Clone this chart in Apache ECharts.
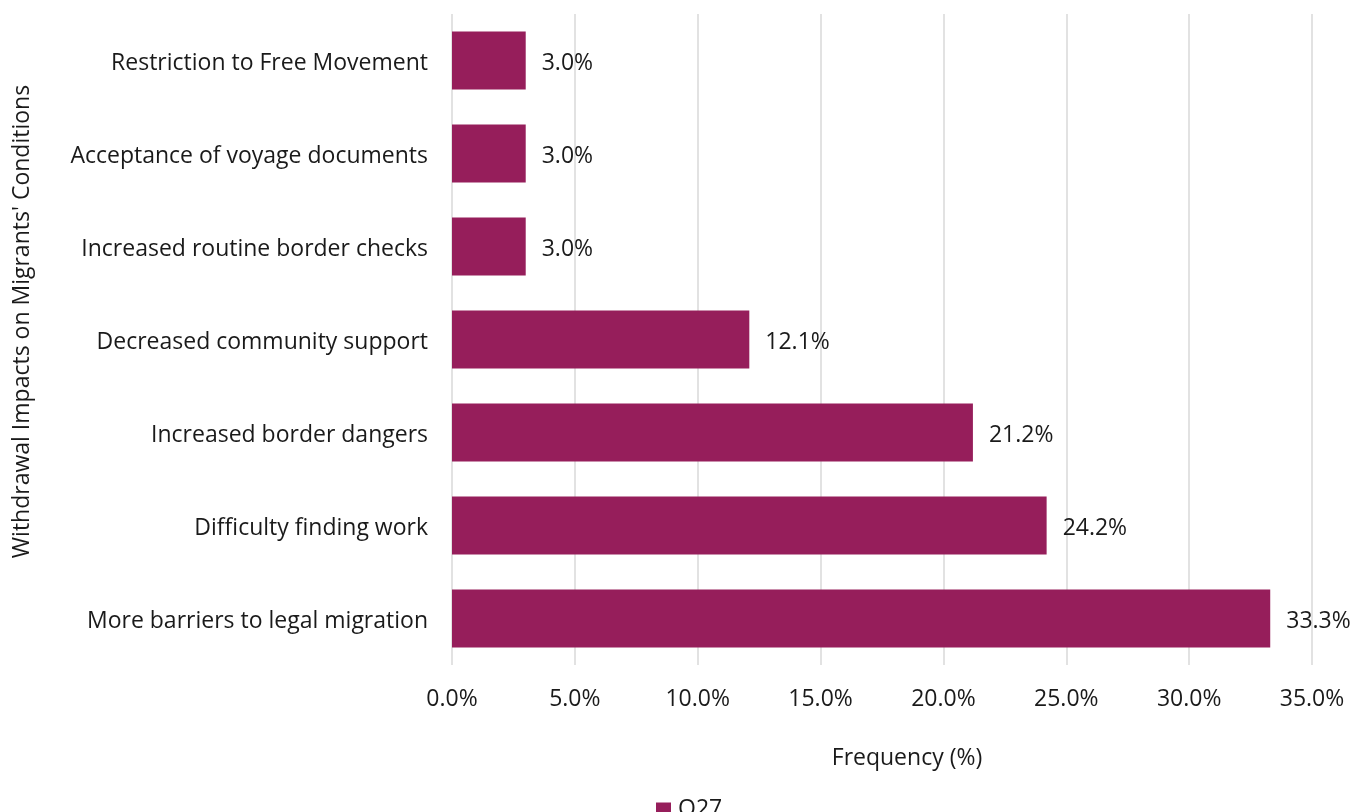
<!DOCTYPE html>
<html>
<head>
<meta charset="utf-8">
<script src="https://cdn.jsdelivr.net/npm/echarts@6/dist/echarts.min.js"></script>
<style>
  html, body { margin: 0; padding: 0; background: #ffffff; }
  #chart { width: 1367px; height: 812px; }
</style>
</head>
<body>
<div id="chart"></div>
<script>
// Categories listed bottom-to-top (ECharts category axis runs upward)
const categories = [
  'More barriers to legal migration',
  'Difficulty finding work',
  'Increased border dangers',
  'Decreased community support',
  'Increased routine border checks',
  'Acceptance of voyage documents',
  'Restriction to Free Movement'
];
const seriesName = 'Q27';
const values = [33.3, 24.2, 21.2, 12.1, 3.0, 3.0, 3.0];
const xTicks = { min: 0, max: 35, interval: 5 };

const barColor = '#961e5b';
const textColor = '#1a1a1a';
const fontFamily = '"Open Sans", "Noto Sans", sans-serif';
const fs = 23;

const chart = echarts.init(document.getElementById('chart'));
chart.setOption({
  animation: false,
  textStyle: { fontFamily: fontFamily },
  grid: { left: 452, right: 55, top: 14, bottom: 147, containLabel: false },
  legend: {
    data: [seriesName],
    bottom: -14,
    left: 651,
    itemWidth: 15,
    itemHeight: 14,
    itemGap: 7,
    icon: 'rect',
    textStyle: { fontSize: fs, color: textColor, fontFamily: fontFamily, padding: [0, 0, 0, 2] }
  },
  xAxis: {
    type: 'value',
    min: xTicks.min,
    max: xTicks.max,
    interval: xTicks.interval,
    name: 'Frequency (%)',
    nameLocation: 'middle',
    nameGap: 82,
    nameTextStyle: { fontSize: fs, color: textColor, padding: [0, 0, 0, 50] },
    axisLine: { show: false },
    axisTick: { show: false },
    axisLabel: {
      fontSize: fs, color: textColor, margin: 23,
      formatter: v => v.toFixed(1) + '%'
    },
    splitLine: { show: true, lineStyle: { color: '#e2e2e2', width: 2 } }
  },
  yAxis: {
    type: 'category',
    data: categories,
    name: "Withdrawal Impacts on Migrants' Conditions",
    nameLocation: 'middle',
    nameGap: 418,
    nameRotate: 90,
    nameTextStyle: { fontSize: fs, color: textColor, padding: [0, 0, 0, 36] },
    axisLine: { show: false },
    axisTick: { show: false },
    axisLabel: {
      fontSize: fs, color: textColor, margin: 24,
      formatter: v => '{c|' + v + '}',
      rich: { c: { fontSize: fs, color: textColor, fontFamily: fontFamily, padding: [6, 0, 0, 0] } }
    },
    splitLine: { show: false }
  },
  series: [{
    name: seriesName,
    type: 'bar',
    data: values,
    barWidth: 58,
    itemStyle: { color: barColor },
    label: {
      show: true,
      position: 'right',
      distance: 16,
      offset: [0, 3],
      fontSize: fs,
      color: textColor,
      formatter: p => p.value.toFixed(1) + '%'
    }
  }]
});
</script>
</body>
</html>
